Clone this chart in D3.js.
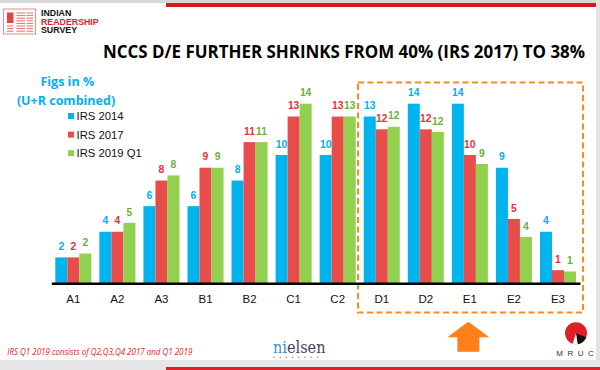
<!DOCTYPE html>
<html><head><meta charset="utf-8">
<script src="https://cdn.jsdelivr.net/npm/d3@7"></script>
<style>
html,body{margin:0;padding:0;background:#fff;}
svg{display:block;}
</style></head>
<body>
<svg id="c" width="600" height="370"></svg>
<script>
const categories = ["A1","A2","A3","B1","B2","C1","C2","D1","D2","E1","E2","E3"];
const seriesNames = ["IRS 2014","IRS 2017","IRS 2019 Q1"];
const irs2014 = [2,4,6,6,8,10,10,13,14,14,9,4];
const irs2017 = [2,4,8,9,11,13,13,12,12,10,5,1];
const irs2019q1 = [2.3,4.7,8.4,9,11,14,13,12.2,11.8,9.3,3.6,0.9];
const titleText = "NCCS D/E FURTHER SHRINKS FROM 40% (IRS 2017) TO 38%";
const footText = "IRS Q1 2019 consists of Q2,Q3,Q4 2017 and Q1 2019";

const barColors = ["#00B4EE","#E84C4B","#92D050"];
const labelColors = ["#00B0F0","#E6303A","#6FAD3F"];
const seriesValues = [irs2014, irs2017, irs2019q1];

const svg = d3.select("#c");

// frame
svg.append("rect").attr("x",0).attr("y",0).attr("width",600).attr("height",370).attr("fill","#fff");
svg.append("rect").attr("x",0).attr("y",0).attr("width",600).attr("height",3).attr("fill","#d9d9d9");
svg.append("rect").attr("x",596).attr("y",0).attr("width",4).attr("height",370).attr("fill","#e3e3e3");
svg.append("rect").attr("x",166).attr("y",3).attr("width",430).attr("height",4).attr("fill","#D71920");
svg.append("rect").attr("x",0).attr("y",360).attr("width",600).attr("height",10).attr("fill","#e6e6e6");
svg.append("rect").attr("x",166).attr("y",367).attr("width",434).attr("height",3).attr("fill","#E31E24");

// IRS logo
const lg = svg.append("g");
lg.append("rect").attr("x",3.5).attr("y",9).attr("width",32).attr("height",25).attr("fill","#fff").attr("stroke","#F08A8A").attr("stroke-width",1);
lg.append("rect").attr("x",7).attr("y",12.5).attr("width",6.5).attr("height",10.5).attr("fill","#E8413F");
const lineRows = [];
for (let i=0;i<8;i++) lineRows.push(13+i*2.6);
lineRows.forEach(y=>{
  lg.append("line").attr("x1",16.5).attr("x2",25).attr("y1",y).attr("y2",y).attr("stroke","#EE6A6A").attr("stroke-width",1);
  lg.append("line").attr("x1",26.5).attr("x2",33).attr("y1",y).attr("y2",y).attr("stroke","#EE6A6A").attr("stroke-width",1);
  if (y>24) lg.append("line").attr("x1",7).attr("x2",13.5).attr("y1",y).attr("y2",y).attr("stroke","#EE6A6A").attr("stroke-width",1);
});
[["INDIAN",16,"#111"],["READERSHIP",24.8,"#E31E24"],["SURVEY",33.4,"#111"]].forEach(d=>{
  lg.append("text").attr("x",41).attr("y",d[1]).text(d[0])
    .attr("font-family","Liberation Sans, Arial, sans-serif").attr("font-weight",700).attr("font-size",8.8)
    .attr("fill",d[2]);
});

// title
svg.append("text").attr("x",103).attr("y",57.5).text(titleText)
  .attr("font-family","Open Sans, sans-serif").attr("font-weight",700).attr("font-size",17)
  .attr("fill","#000").attr("textLength",482).attr("lengthAdjust","spacingAndGlyphs");

// Figs in %
svg.append("text").attr("x",67.3).attr("y",86).attr("text-anchor","middle").text("Figs in %")
  .attr("font-family","Open Sans, sans-serif").attr("font-weight",700).attr("font-size",12.5)
  .attr("fill","#00B0F0");
svg.append("text").attr("x",66).attr("y",105).attr("text-anchor","middle").text("(U+R combined)")
  .attr("font-family","Open Sans, sans-serif").attr("font-weight",700).attr("font-size",12.5)
  .attr("fill","#00B0F0");

// legend
const leg = svg.append("g");
seriesNames.forEach((s,i)=>{
  const cy = 116 + i*18.6;
  leg.append("rect").attr("x",68).attr("y",cy-3).attr("width",6).attr("height",6).attr("fill",barColors[i]);
  leg.append("text").attr("x",76.5).attr("y",cy+4).text(s)
    .attr("font-family","Liberation Sans, Arial, sans-serif").attr("font-size",11.3).attr("fill","#111");
});

// scales
const x0 = d3.scaleBand().domain(categories).range([51.3,580]).paddingInner(0.182).paddingOuter(0.091);
const x1 = d3.scaleBand().domain(seriesNames).range([0,x0.bandwidth()]).padding(0);
const y = d3.scaleLinear().domain([0,14]).range([283,103.7]);

// orange dashed box
svg.append("rect").attr("x",358).attr("y",82.5).attr("width",225).attr("height",230)
  .attr("fill","none").attr("stroke","#FF8A1E").attr("stroke-width",2).attr("stroke-dasharray","6,3.5");

// bars
const rows = categories.map((c,ci)=>({cat:c, vals: seriesNames.map((s,si)=>({s, si, v: seriesValues[si][ci]}))}));
const g = svg.append("g");
const grp = g.selectAll("g.cat").data(rows).join("g").attr("class","cat")
  .attr("transform",d=>`translate(${x0(d.cat)},0)`);
grp.selectAll("rect").data(d=>d.vals).join("rect")
  .attr("x",d=>x1(d.s)).attr("width",x1.bandwidth())
  .attr("y",d=>y(d.v)).attr("height",d=>y(0)-y(d.v))
  .attr("fill",d=>barColors[d.si]);
grp.selectAll("text").data(d=>d.vals).join("text")
  .attr("x",d=>x1(d.s)+x1.bandwidth()/2).attr("y",d=>y(d.v)-7.3)
  .attr("text-anchor","middle").text(d=>Math.round(d.v))
  .attr("font-family","Liberation Sans, Arial, sans-serif").attr("font-weight",700).attr("font-size",10.3)
  .attr("fill",d=>labelColors[d.si]);

// axis
const ax = svg.append("g").attr("transform","translate(0,283.3)")
  .call(d3.axisBottom(x0).tickSize(0).tickSizeOuter(0).tickPadding(11.5));
ax.select(".domain").attr("stroke","#000").attr("stroke-width",2.5);
ax.selectAll("text").attr("font-family","Liberation Sans, Arial, sans-serif").attr("font-size",11.5).attr("fill","#111");

// orange arrow
const ax0 = x0("E1")+x0.bandwidth()/2 - 1.5;
svg.append("path")
  .attr("d",`M${ax0},321.7 L${ax0+21},337.3 L${ax0+11},337.3 L${ax0+11},351.7 L${ax0-11},351.7 L${ax0-11},337.3 L${ax0-21},337.3 Z`)
  .attr("fill","#FF7F1A");

// footnote
svg.append("text").attr("x",7.3).attr("y",355).text(footText)
  .attr("font-family","Open Sans, sans-serif").attr("font-style","italic").attr("font-size",9)
  .attr("fill","#E31E24").attr("textLength",185).attr("lengthAdjust","spacingAndGlyphs");

// nielsen (two-tone via hard-stop gradient)
const defs = svg.append("defs");
const ng = defs.append("linearGradient").attr("id","nielsenFill")
  .attr("gradientUnits","userSpaceOnUse").attr("x1",273).attr("x2",325.5).attr("y1",0).attr("y2",0);
ng.append("stop").attr("offset",0).attr("stop-color","#3D8FCB");
ng.append("stop").attr("offset",0.235).attr("stop-color","#3D8FCB");
ng.append("stop").attr("offset",0.235).attr("stop-color","#3C4656");
ng.append("stop").attr("offset",1).attr("stop-color","#3C4656");
svg.append("text").attr("x",273).attr("y",352.5).text("nielsen")
  .attr("font-family","DejaVu Serif, serif").attr("font-size",16).attr("fill","url(#nielsenFill)")
  .attr("textLength",52.5).attr("lengthAdjust","spacingAndGlyphs");
for (let i=0;i<8;i++) svg.append("circle").attr("cx",274+i*6.2).attr("cy",357.3).attr("r",0.8).attr("fill","#8a8f99");

// MRUC
const mc = svg.append("g").attr("transform","translate(576,333.3)");
mc.append("circle").attr("r",11).attr("fill","#E01E26");
mc.append("path").attr("d",d3.arc()({innerRadius:0,outerRadius:11,startAngle:Math.PI*0.62,endAngle:Math.PI*0.95})).attr("fill","#111");
mc.append("path").attr("d",d3.arc()({innerRadius:0,outerRadius:11,startAngle:Math.PI*0.95,endAngle:Math.PI*1.1})).attr("fill","#fff");
svg.append("text").attr("x",577.3).attr("y",356).attr("text-anchor","middle").text("MRUC")
  .attr("font-family","Liberation Sans, Arial, sans-serif").attr("font-size",8).attr("letter-spacing",4.5)
  .attr("fill","#333");
</script>
</body></html>
